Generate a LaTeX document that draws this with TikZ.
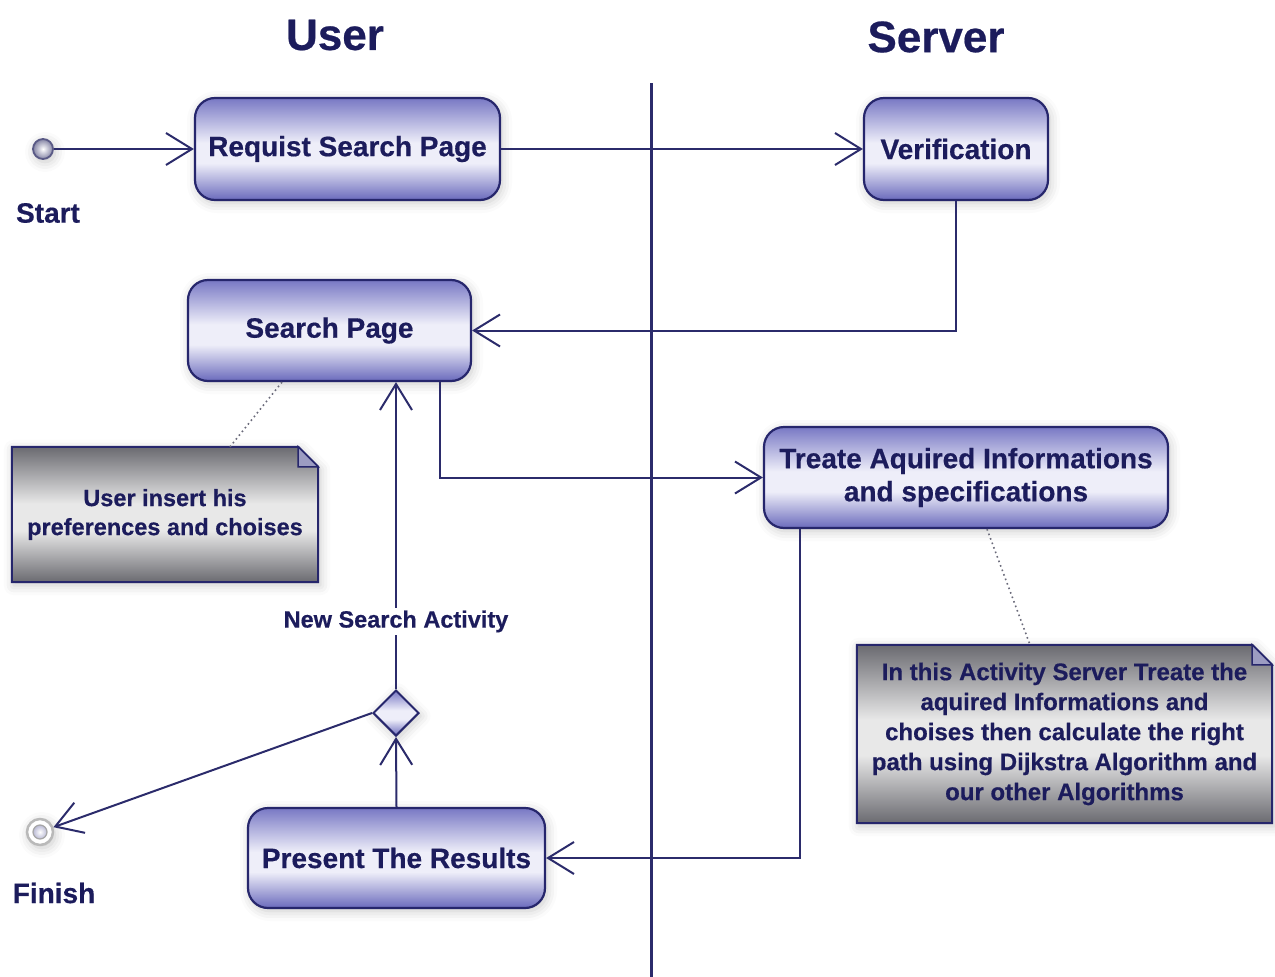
\documentclass[tikz,border=0pt]{standalone}
\usepackage{fontspec}
\setmainfont{Liberation Sans}[BoldFeatures={FakeBold=0.5}]
\usetikzlibrary{arrows.meta,shapes.geometric,shadows.blur}

\definecolor{ink}{HTML}{1C1C5C}
\definecolor{wire}{HTML}{2B2B6B}
\definecolor{edge}{HTML}{26266C}
\definecolor{actdark}{HTML}{6A6ABC}
\definecolor{acttop}{HTML}{7878C4}
\definecolor{actlight}{HTML}{EEEEF9}
\definecolor{notedark}{HTML}{6A6A70}
\definecolor{notelight}{HTML}{E8E8E8}
\definecolor{fold}{HTML}{9C9CC2}
\definecolor{dots}{HTML}{6A6A7A}
\definecolor{ballrim}{HTML}{5A5A86}

% activity fill: purple at the rims, pale in the middle
\pgfdeclareverticalshading{actshade}{100bp}{color(0bp)=(actdark); color(25bp)=(actdark); color(33bp)=(actdark!55!actlight); color(43bp)=(actlight); color(53bp)=(actlight); color(75bp)=(acttop); color(100bp)=(acttop)}
% note fill: grey at the rims, light in the middle
\pgfdeclareverticalshading{noteshade}{100bp}{color(0bp)=(notedark); color(25bp)=(notedark); color(44bp)=(notelight); color(54bp)=(notelight); color(75bp)=(notedark); color(100bp)=(notedark)}

\pgfdeclarelayer{background}
\pgfsetlayers{background,main}

\tikzset{
  glow/.style={blur shadow={shadow xshift=2pt,shadow yshift=-3pt,shadow blur radius=10pt,shadow opacity=22}},
  act/.style={draw=edge, line width=2.2pt, rounded corners=20pt, shade, shading=actshade,
    text=ink, font=\bfseries\fontsize{28}{33}\selectfont, align=center, inner sep=0pt, glow},
  notetext/.style={text=ink, align=center, inner sep=0pt},
  noteshape/.style={draw=edge, line width=2pt, shade, shading=noteshade, glow},
  foldshape/.style={draw=edge, line width=1.5pt, fill=fold},
  flow/.style={draw=wire, line width=2pt, -{Straight Barb[length=26pt,width=32pt,line width=2pt]}},
  anchorline/.style={draw=dots, line width=1.6pt, dash pattern=on 1.6pt off 3.2pt},
  lane/.style={draw=wire, line width=3pt},
  lanetitle/.style={text=ink, font=\bfseries\fontsize{44}{50}\selectfont},
  tag/.style={text=ink, font=\bfseries\fontsize{28}{32}\selectfont, inner sep=0pt},
  guard/.style={text=ink, fill=white, font=\bfseries\fontsize{23.5}{27}\selectfont, inner sep=3pt},
}

\begin{document}
\begin{tikzpicture}[x=1pt,y=-1pt]
\useasboundingbox (0,0) rectangle (1275,977);

% swimlane titles and divider
\node[lanetitle] (userlane) at (335,35) {User};
\node[lanetitle] (serverlane) at (936,37) {Server};
\coordinate (laneTop) at (651,83);
\coordinate (laneBot) at (651,977);
\draw[lane] (laneTop) -- (laneBot);

% initial and final states
\node[circle, minimum size=20pt, inner sep=0pt, draw=ballrim, line width=1.8pt,
      inner color=white, outer color=fold!85!black, glow] (start) at (43,149) {};
\node[tag] (startlab) at (48,213) {Start};
\node[circle, minimum size=26pt, inner sep=0pt, draw=gray!55, line width=2.5pt, fill=white, glow] (finish) at (40,832) {};
\node[circle, minimum size=14pt, inner sep=0pt, draw=gray!70, line width=1.2pt,
      inner color=white, outer color=fold!70] (finishcore) at (40,832) {};
\node[tag] (finishlab) at (54,893) {Finish};

% activities
\node[act, minimum width=305pt, minimum height=102pt] (req) at (347.5,149) {Requist Search Page};
\node[act, minimum width=184pt, minimum height=102pt] (ver) at (956,149) {Verification};
\node[act, minimum width=283pt, minimum height=101pt] (search) at (329.5,330.5) {Search Page};
\node[act, minimum width=404pt, minimum height=101pt] (treat) at (966,477.5) {Treate Aquired Informations\\and specifications};
\node[act, minimum width=297pt, minimum height=100pt] (present) at (396.5,858) {Present The Results};

% decision
\node[diamond, minimum width=46pt, minimum height=46pt, inner sep=0pt, draw=edge, line width=2pt,
      shade, shading=actshade, glow] (dec) at (396,713) {};

% notes
\node[notetext, minimum width=306pt, minimum height=135pt,
      font=\bfseries\fontsize{23.5}{29}\selectfont] (note1) at (165,514.5)
      {User insert his\\preferences and choises};
\node[notetext, minimum width=415pt, minimum height=178pt,
      font=\bfseries\fontsize{24}{30}\selectfont] (note2) at (1064.5,734)
      {In this Activity Server Treate the\\aquired Informations and\\choises then calculate the right\\path using Dijkstra Algorithm and\\our other Algorithms};

\begin{pgfonlayer}{background}
  \foreach \n in {note1,note2}{
    \path[noteshape] (\n.north west) -- ([xshift=-20pt]\n.north east) -- ([yshift=-20pt]\n.north east)
      -- (\n.south east) -- (\n.south west) -- cycle;
    \path[foldshape] ([xshift=-20pt]\n.north east) -- ([xshift=-20pt,yshift=-20pt]\n.north east)
      -- ([yshift=-20pt]\n.north east) -- cycle;
  }
\end{pgfonlayer}

% control flow
\draw[flow] (start) -- (req);
\draw[flow] (req) -- (ver);
\draw[flow] (ver.south) |- (search.east);
\draw[flow] ([xshift=110.5pt]search.south) |- (treat.west);
\draw[flow] ([xshift=37pt]treat.south west) |- (present.east);
\draw[flow] (present.north) -- (dec.south);
\draw[flow] (dec.north) -- (dec.north |- search.south)
  node[guard, pos=0.22] (guardlab) {New Search Activity};
\draw[flow] (dec.west) -- (finish);

% note anchors
\draw[anchorline] ([xshift=-47.5pt]search.south) -- ([xshift=65pt]note1.north);
\draw[anchorline] ([xshift=21pt]treat.south) -- ([xshift=-34.5pt]note2.north);
\end{tikzpicture}
\end{document}
